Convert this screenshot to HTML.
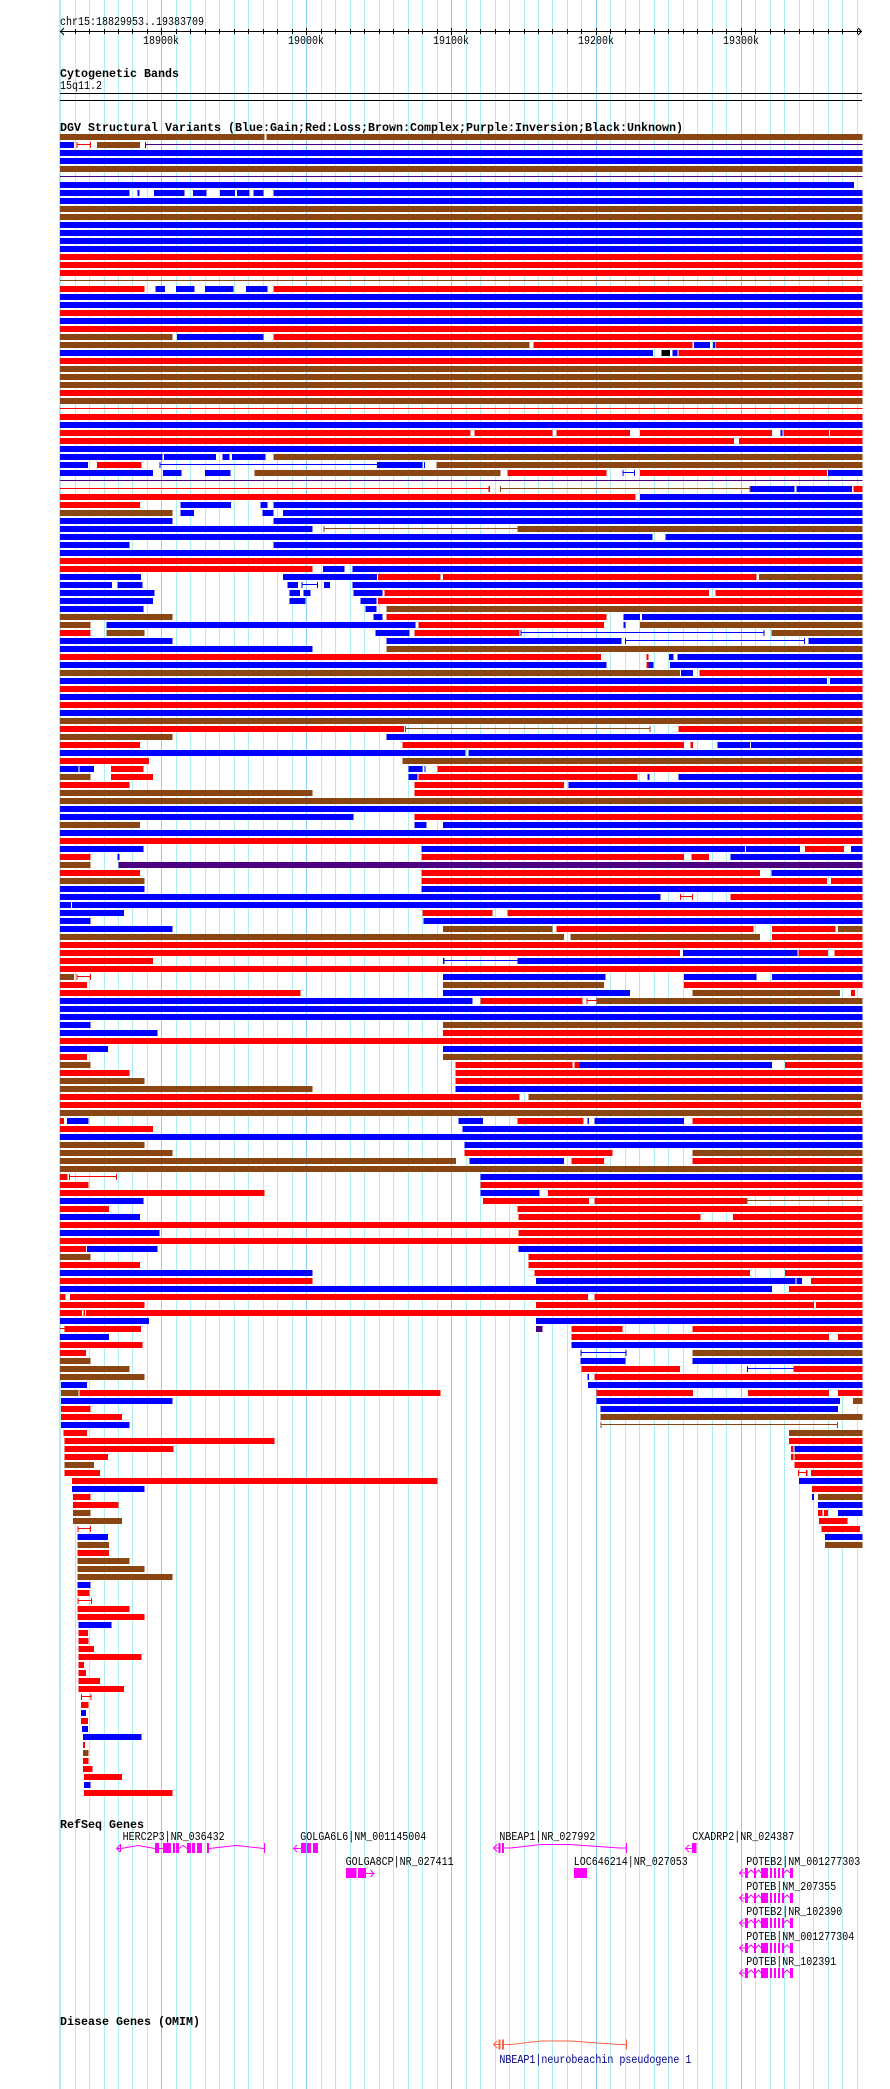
<!DOCTYPE html>
<html><head><meta charset="utf-8"><style>
html,body{margin:0;padding:0;background:#fff;}
svg{display:block;}
.s{font-family:"Liberation Mono",monospace;font-size:11.5px;fill:#000;}
.t{font-family:"Liberation Mono",monospace;font-size:11.5px;font-weight:bold;fill:#000;}
.b{fill:#0000ff}.r{fill:#ff0000}.n{fill:#8b4513}.p{fill:#4b0082}.k{fill:#000}
</style></head><body>
<svg width="890" height="2089" viewBox="0 0 890 2089" xmlns="http://www.w3.org/2000/svg">
<rect x="0" y="0" width="890" height="2089" fill="#fff"/>
<g shape-rendering="crispEdges" fill="#afeeee">
<rect x="59" y="0" width="2" height="2089"/><rect x="75" y="0" width="1" height="2089"/><rect x="89" y="0" width="1" height="2089"/><rect x="104" y="0" width="1" height="2089"/><rect x="118" y="0" width="1" height="2089"/><rect x="132" y="0" width="1" height="2089"/><rect x="147" y="0" width="1" height="2089"/><rect x="176" y="0" width="1" height="2089"/><rect x="190" y="0" width="1" height="2089"/><rect x="205" y="0" width="1" height="2089"/><rect x="219" y="0" width="1" height="2089"/><rect x="234" y="0" width="1" height="2089"/><rect x="248" y="0" width="1" height="2089"/><rect x="263" y="0" width="1" height="2089"/><rect x="277" y="0" width="1" height="2089"/><rect x="292" y="0" width="1" height="2089"/><rect x="321" y="0" width="1" height="2089"/><rect x="335" y="0" width="1" height="2089"/><rect x="350" y="0" width="1" height="2089"/><rect x="364" y="0" width="1" height="2089"/><rect x="379" y="0" width="1" height="2089"/><rect x="393" y="0" width="1" height="2089"/><rect x="408" y="0" width="1" height="2089"/><rect x="422" y="0" width="1" height="2089"/><rect x="437" y="0" width="1" height="2089"/><rect x="466" y="0" width="1" height="2089"/><rect x="480" y="0" width="1" height="2089"/><rect x="495" y="0" width="1" height="2089"/><rect x="509" y="0" width="1" height="2089"/><rect x="524" y="0" width="1" height="2089"/><rect x="538" y="0" width="1" height="2089"/><rect x="552" y="0" width="1" height="2089"/><rect x="567" y="0" width="1" height="2089"/><rect x="581" y="0" width="1" height="2089"/><rect x="610" y="0" width="1" height="2089"/><rect x="625" y="0" width="1" height="2089"/><rect x="639" y="0" width="1" height="2089"/><rect x="654" y="0" width="1" height="2089"/><rect x="668" y="0" width="1" height="2089"/><rect x="683" y="0" width="1" height="2089"/><rect x="697" y="0" width="1" height="2089"/><rect x="712" y="0" width="1" height="2089"/><rect x="726" y="0" width="1" height="2089"/><rect x="755" y="0" width="1" height="2089"/><rect x="770" y="0" width="1" height="2089"/><rect x="784" y="0" width="1" height="2089"/><rect x="799" y="0" width="1" height="2089"/><rect x="813" y="0" width="1" height="2089"/><rect x="828" y="0" width="1" height="2089"/><rect x="842" y="0" width="1" height="2089"/><rect x="857" y="0" width="1" height="2089"/>
</g>
<g shape-rendering="crispEdges" fill="#87cefa">
<rect x="161" y="0" width="1" height="2089"/><rect x="306" y="0" width="1" height="2089"/><rect x="451" y="0" width="1" height="2089"/><rect x="596" y="0" width="1" height="2089"/><rect x="741" y="0" width="1" height="2089"/>
</g>
<!-- header -->
<text class="s" x="60" y="25" textLength="144" lengthAdjust="spacingAndGlyphs">chr15:18829953..19383709</text>
<g shape-rendering="crispEdges" fill="#000">
<rect x="60" y="31" width="802" height="1"/>
<rect x="75" y="29" width="1" height="5"/><rect x="89" y="29" width="1" height="5"/><rect x="104" y="29" width="1" height="5"/><rect x="118" y="29" width="1" height="5"/><rect x="132" y="29" width="1" height="5"/><rect x="147" y="29" width="1" height="5"/><rect x="161" y="28" width="1" height="7"/><rect x="176" y="29" width="1" height="5"/><rect x="190" y="29" width="1" height="5"/><rect x="205" y="29" width="1" height="5"/><rect x="219" y="29" width="1" height="5"/><rect x="234" y="29" width="1" height="5"/><rect x="248" y="29" width="1" height="5"/><rect x="263" y="29" width="1" height="5"/><rect x="277" y="29" width="1" height="5"/><rect x="292" y="29" width="1" height="5"/><rect x="306" y="28" width="1" height="7"/><rect x="321" y="29" width="1" height="5"/><rect x="335" y="29" width="1" height="5"/><rect x="350" y="29" width="1" height="5"/><rect x="364" y="29" width="1" height="5"/><rect x="379" y="29" width="1" height="5"/><rect x="393" y="29" width="1" height="5"/><rect x="408" y="29" width="1" height="5"/><rect x="422" y="29" width="1" height="5"/><rect x="437" y="29" width="1" height="5"/><rect x="451" y="28" width="1" height="7"/><rect x="466" y="29" width="1" height="5"/><rect x="480" y="29" width="1" height="5"/><rect x="495" y="29" width="1" height="5"/><rect x="509" y="29" width="1" height="5"/><rect x="524" y="29" width="1" height="5"/><rect x="538" y="29" width="1" height="5"/><rect x="552" y="29" width="1" height="5"/><rect x="567" y="29" width="1" height="5"/><rect x="581" y="29" width="1" height="5"/><rect x="596" y="28" width="1" height="7"/><rect x="610" y="29" width="1" height="5"/><rect x="625" y="29" width="1" height="5"/><rect x="639" y="29" width="1" height="5"/><rect x="654" y="29" width="1" height="5"/><rect x="668" y="29" width="1" height="5"/><rect x="683" y="29" width="1" height="5"/><rect x="697" y="29" width="1" height="5"/><rect x="712" y="29" width="1" height="5"/><rect x="726" y="29" width="1" height="5"/><rect x="741" y="28" width="1" height="7"/><rect x="755" y="29" width="1" height="5"/><rect x="770" y="29" width="1" height="5"/><rect x="784" y="29" width="1" height="5"/><rect x="799" y="29" width="1" height="5"/><rect x="813" y="29" width="1" height="5"/><rect x="828" y="29" width="1" height="5"/><rect x="842" y="29" width="1" height="5"/><rect x="857" y="29" width="1" height="5"/>
<rect x="60" y="93" width="802" height="1"/>
<rect x="60" y="100" width="802" height="1"/>
</g>
<path d="M64 28 L60.5 31.5 L64 35 M858 28 L861.5 31.5 L858 35" stroke="#000" fill="none" stroke-width="1"/>
<text class="s" x="143" y="44" textLength="36" lengthAdjust="spacingAndGlyphs">18900k</text>
<text class="s" x="288" y="44" textLength="36" lengthAdjust="spacingAndGlyphs">19000k</text>
<text class="s" x="433" y="44" textLength="36" lengthAdjust="spacingAndGlyphs">19100k</text>
<text class="s" x="578" y="44" textLength="36" lengthAdjust="spacingAndGlyphs">19200k</text>
<text class="s" x="723" y="44" textLength="36" lengthAdjust="spacingAndGlyphs">19300k</text>
<text class="t" x="60" y="77" textLength="119" lengthAdjust="spacingAndGlyphs">Cytogenetic Bands</text>
<text class="s" x="60" y="89" textLength="42" lengthAdjust="spacingAndGlyphs">15q11.2</text>
<text class="t" x="60" y="131" textLength="623" lengthAdjust="spacingAndGlyphs">DGV Structural Variants (Blue:Gain;Red:Loss;Brown:Complex;Purple:Inversion;Black:Unknown)</text>
<!-- DGV rows -->
<g transform="translate(55.85 0) scale(0.5193 1)" shape-rendering="crispEdges">
<rect class="n" x="8" y="134" width="394" height="6"/><rect class="n" x="406" y="134" width="1147" height="6"/>
<rect class="b" x="8" y="142" width="27" height="6"/><rect class="r" x="40" y="144" width="28" height="1"/><rect class="r" x="40" y="142" width="2" height="6"/><rect class="r" x="66" y="142" width="2" height="6"/><rect class="n" x="79" y="142" width="83" height="6"/><rect class="p" x="172" y="142" width="2" height="6"/><rect class="p" x="172" y="144" width="1381" height="1"/>
<rect class="b" x="8" y="150" width="1545" height="6"/>
<rect class="b" x="8" y="158" width="1545" height="6"/>
<rect class="n" x="8" y="166" width="1545" height="6"/>
<rect class="p" x="8" y="176" width="1545" height="1"/>
<rect class="b" x="8" y="182" width="1529" height="6"/>
<rect class="b" x="8" y="190" width="134" height="6"/><rect class="b" x="157" y="190" width="4" height="6"/><rect class="b" x="189" y="190" width="59" height="6"/><rect class="b" x="264" y="190" width="26" height="6"/><rect class="b" x="316" y="190" width="29" height="6"/><rect class="b" x="349" y="190" width="24" height="6"/><rect class="b" x="381" y="190" width="19" height="6"/><rect class="b" x="419" y="190" width="1134" height="6"/>
<rect class="b" x="8" y="198" width="1545" height="6"/>
<rect class="n" x="8" y="206" width="1545" height="6"/>
<rect class="n" x="8" y="214" width="1545" height="6"/>
<rect class="b" x="8" y="222" width="1545" height="6"/>
<rect class="b" x="8" y="230" width="1545" height="6"/>
<rect class="b" x="8" y="238" width="1545" height="6"/>
<rect class="b" x="8" y="246" width="1545" height="6"/>
<rect class="r" x="8" y="254" width="1545" height="6"/>
<rect class="r" x="8" y="262" width="1545" height="6"/>
<rect class="r" x="8" y="270" width="1545" height="6"/>
<rect class="n" x="8" y="280" width="1545" height="1"/>
<rect class="r" x="8" y="286" width="163" height="6"/><rect class="b" x="192" y="286" width="18" height="6"/><rect class="b" x="231" y="286" width="36" height="6"/><rect class="b" x="287" y="286" width="55" height="6"/><rect class="b" x="366" y="286" width="42" height="6"/><rect class="r" x="419" y="286" width="1134" height="6"/>
<rect class="b" x="8" y="294" width="1545" height="6"/>
<rect class="b" x="8" y="302" width="1545" height="6"/>
<rect class="r" x="8" y="310" width="1545" height="6"/>
<rect class="b" x="8" y="318" width="1545" height="6"/>
<rect class="r" x="8" y="326" width="1545" height="6"/>
<rect class="n" x="8" y="334" width="217" height="6"/><rect class="b" x="233" y="334" width="167" height="6"/><rect class="r" x="419" y="334" width="1134" height="6"/>
<rect class="n" x="8" y="342" width="904" height="6"/><rect class="r" x="920" y="342" width="306" height="6"/><rect class="b" x="1229" y="342" width="31" height="6"/><rect class="b" x="1265" y="342" width="4" height="6"/><rect class="r" x="1270" y="342" width="283" height="6"/>
<rect class="b" x="8" y="350" width="1142" height="6"/><rect class="k" x="1166" y="350" width="17" height="6"/><rect class="b" x="1187" y="350" width="10" height="6"/><rect class="r" x="1199" y="350" width="354" height="6"/>
<rect class="r" x="8" y="358" width="1545" height="6"/>
<rect class="n" x="8" y="366" width="1545" height="6"/>
<rect class="n" x="8" y="374" width="1545" height="6"/>
<rect class="n" x="8" y="382" width="1545" height="6"/>
<rect class="r" x="8" y="390" width="1545" height="6"/>
<rect class="n" x="8" y="398" width="1545" height="6"/>
<rect class="r" x="8" y="408" width="1545" height="1"/>
<rect class="r" x="8" y="414" width="1545" height="6"/>
<rect class="b" x="8" y="422" width="1545" height="6"/>
<rect class="r" x="8" y="430" width="790" height="6"/><rect class="r" x="806" y="430" width="150" height="6"/><rect class="r" x="964" y="430" width="142" height="6"/><rect class="r" x="1125" y="430" width="254" height="6"/><rect class="b" x="1395" y="430" width="4" height="6"/><rect class="r" x="1401" y="430" width="88" height="6"/><rect class="r" x="1491" y="430" width="62" height="6"/>
<rect class="r" x="8" y="438" width="1298" height="6"/><rect class="r" x="1316" y="438" width="237" height="6"/>
<rect class="b" x="8" y="446" width="1545" height="6"/>
<rect class="b" x="8" y="454" width="197" height="6"/><rect class="b" x="208" y="454" width="100" height="6"/><rect class="b" x="321" y="454" width="13" height="6"/><rect class="b" x="339" y="454" width="65" height="6"/><rect class="n" x="419" y="454" width="1134" height="6"/>
<rect class="b" x="8" y="462" width="54" height="6"/><rect class="r" x="79" y="462" width="86" height="6"/><rect class="b" x="200" y="464" width="418" height="1"/><rect class="b" x="200" y="462" width="2" height="6"/><rect class="b" x="618" y="462" width="88" height="6"/><rect class="b" x="709" y="462" width="2" height="6"/><rect class="n" x="733" y="462" width="820" height="6"/>
<rect class="b" x="8" y="470" width="179" height="6"/><rect class="b" x="206" y="470" width="36" height="6"/><rect class="b" x="287" y="470" width="49" height="6"/><rect class="n" x="383" y="470" width="473" height="6"/><rect class="r" x="870" y="470" width="190" height="6"/><rect class="b" x="1091" y="472" width="24" height="1"/><rect class="b" x="1091" y="470" width="2" height="6"/><rect class="b" x="1113" y="470" width="2" height="6"/><rect class="r" x="1125" y="470" width="360" height="6"/><rect class="b" x="1487" y="470" width="66" height="6"/>
<rect class="p" x="8" y="480" width="1545" height="1"/>
<rect class="r" x="8" y="488" width="827" height="1"/><rect class="r" x="833" y="486" width="3" height="6"/><rect class="n" x="855" y="488" width="483" height="1"/><rect class="n" x="855" y="486" width="2" height="6"/><rect class="n" x="1336" y="486" width="2" height="6"/><rect class="b" x="1338" y="486" width="84" height="6"/><rect class="b" x="1426" y="486" width="107" height="6"/><rect class="r" x="1536" y="486" width="17" height="6"/>
<rect class="r" x="8" y="494" width="1108" height="6"/><rect class="b" x="1125" y="494" width="428" height="6"/>
<rect class="r" x="8" y="502" width="154" height="6"/><rect class="b" x="240" y="502" width="97" height="6"/><rect class="b" x="394" y="502" width="14" height="6"/><rect class="b" x="419" y="502" width="1134" height="6"/>
<rect class="n" x="8" y="510" width="217" height="6"/><rect class="b" x="240" y="510" width="26" height="6"/><rect class="b" x="398" y="510" width="21" height="6"/><rect class="b" x="437" y="510" width="1116" height="6"/>
<rect class="b" x="8" y="518" width="217" height="6"/><rect class="b" x="419" y="518" width="1134" height="6"/>
<rect class="b" x="8" y="526" width="486" height="6"/><rect class="n" x="515" y="528" width="374" height="1"/><rect class="n" x="515" y="526" width="2" height="6"/><rect class="n" x="889" y="526" width="664" height="6"/>
<rect class="b" x="8" y="534" width="1141" height="6"/><rect class="b" x="1174" y="534" width="379" height="6"/>
<rect class="b" x="8" y="542" width="134" height="6"/><rect class="b" x="419" y="542" width="1134" height="6"/>
<rect class="b" x="8" y="550" width="1545" height="6"/>
<rect class="r" x="8" y="558" width="1545" height="6"/>
<rect class="r" x="8" y="566" width="486" height="6"/><rect class="b" x="514" y="566" width="42" height="6"/><rect class="b" x="571" y="566" width="982" height="6"/>
<rect class="b" x="8" y="574" width="156" height="6"/><rect class="b" x="437" y="574" width="181" height="6"/><rect class="r" x="620" y="574" width="121" height="6"/><rect class="r" x="746" y="574" width="603" height="6"/><rect class="n" x="1354" y="574" width="199" height="6"/>
<rect class="b" x="8" y="582" width="100" height="6"/><rect class="b" x="119" y="582" width="48" height="6"/><rect class="b" x="446" y="582" width="20" height="6"/><rect class="b" x="473" y="584" width="32" height="1"/><rect class="b" x="473" y="582" width="2" height="6"/><rect class="b" x="503" y="582" width="2" height="6"/><rect class="b" x="516" y="582" width="12" height="6"/><rect class="b" x="571" y="582" width="982" height="6"/>
<rect class="b" x="8" y="590" width="182" height="6"/><rect class="b" x="450" y="590" width="20" height="6"/><rect class="b" x="477" y="590" width="13" height="6"/><rect class="b" x="573" y="590" width="56" height="6"/><rect class="r" x="633" y="590" width="625" height="6"/><rect class="r" x="1270" y="590" width="283" height="6"/>
<rect class="b" x="8" y="598" width="179" height="6"/><rect class="b" x="450" y="598" width="31" height="6"/><rect class="b" x="587" y="598" width="30" height="6"/><rect class="r" x="620" y="598" width="933" height="6"/>
<rect class="b" x="8" y="606" width="161" height="6"/><rect class="b" x="596" y="606" width="21" height="6"/><rect class="n" x="637" y="606" width="916" height="6"/>
<rect class="n" x="8" y="614" width="217" height="6"/><rect class="b" x="612" y="614" width="17" height="6"/><rect class="r" x="637" y="614" width="423" height="6"/><rect class="b" x="1093" y="614" width="32" height="6"/><rect class="b" x="1129" y="614" width="424" height="6"/>
<rect class="n" x="8" y="622" width="59" height="6"/><rect class="b" x="98" y="622" width="595" height="6"/><rect class="r" x="698" y="622" width="358" height="6"/><rect class="b" x="1093" y="622" width="4" height="6"/><rect class="n" x="1125" y="622" width="428" height="6"/>
<rect class="r" x="8" y="630" width="59" height="6"/><rect class="n" x="98" y="630" width="73" height="6"/><rect class="b" x="616" y="630" width="65" height="6"/><rect class="r" x="691" y="630" width="202" height="6"/><rect class="b" x="895" y="632" width="470" height="1"/><rect class="b" x="895" y="630" width="2" height="6"/><rect class="b" x="1363" y="630" width="2" height="6"/><rect class="n" x="1378" y="630" width="175" height="6"/>
<rect class="b" x="8" y="638" width="217" height="6"/><rect class="b" x="637" y="638" width="452" height="6"/><rect class="b" x="1096" y="640" width="347" height="1"/><rect class="b" x="1096" y="638" width="2" height="6"/><rect class="b" x="1441" y="638" width="2" height="6"/><rect class="b" x="1449" y="638" width="104" height="6"/>
<rect class="b" x="8" y="646" width="486" height="6"/><rect class="n" x="637" y="646" width="916" height="6"/>
<rect class="r" x="8" y="654" width="1042" height="6"/><rect class="r" x="1137" y="654" width="4" height="6"/><rect class="b" x="1181" y="654" width="8" height="6"/><rect class="b" x="1197" y="654" width="356" height="6"/>
<rect class="b" x="8" y="662" width="1052" height="6"/><rect class="r" x="1137" y="662" width="4" height="6"/><rect class="b" x="1141" y="662" width="10" height="6"/><rect class="b" x="1183" y="662" width="370" height="6"/>
<rect class="n" x="8" y="670" width="1194" height="6"/><rect class="b" x="1204" y="670" width="23" height="6"/><rect class="r" x="1239" y="670" width="314" height="6"/>
<rect class="b" x="8" y="678" width="1477" height="6"/><rect class="b" x="1491" y="678" width="62" height="6"/>
<rect class="r" x="8" y="686" width="1545" height="6"/>
<rect class="b" x="8" y="694" width="1545" height="6"/>
<rect class="r" x="8" y="702" width="1545" height="6"/>
<rect class="b" x="8" y="710" width="1545" height="6"/>
<rect class="n" x="8" y="718" width="1545" height="6"/>
<rect class="r" x="8" y="726" width="662" height="6"/><rect class="n" x="672" y="728" width="473" height="1"/><rect class="n" x="672" y="726" width="2" height="6"/><rect class="n" x="1143" y="726" width="2" height="6"/><rect class="r" x="1199" y="726" width="354" height="6"/>
<rect class="n" x="8" y="734" width="217" height="6"/><rect class="b" x="637" y="734" width="916" height="6"/>
<rect class="r" x="8" y="742" width="154" height="6"/><rect class="r" x="668" y="742" width="542" height="6"/><rect class="r" x="1222" y="742" width="5" height="6"/><rect class="b" x="1274" y="742" width="63" height="6"/><rect class="b" x="1339" y="742" width="214" height="6"/>
<rect class="b" x="8" y="750" width="781" height="6"/><rect class="b" x="795" y="750" width="758" height="6"/>
<rect class="r" x="8" y="758" width="171" height="6"/><rect class="n" x="668" y="758" width="885" height="6"/>
<rect class="b" x="8" y="766" width="36" height="6"/><rect class="b" x="46" y="766" width="27" height="6"/><rect class="r" x="106" y="766" width="63" height="6"/><rect class="b" x="679" y="766" width="27" height="6"/><rect class="b" x="710" y="766" width="2" height="6"/><rect class="r" x="735" y="766" width="818" height="6"/>
<rect class="n" x="8" y="774" width="59" height="6"/><rect class="r" x="106" y="774" width="81" height="6"/><rect class="b" x="679" y="774" width="17" height="6"/><rect class="r" x="698" y="774" width="422" height="6"/><rect class="b" x="1139" y="774" width="4" height="6"/><rect class="b" x="1199" y="774" width="354" height="6"/>
<rect class="r" x="8" y="782" width="134" height="6"/><rect class="r" x="691" y="782" width="288" height="6"/><rect class="b" x="987" y="782" width="566" height="6"/>
<rect class="n" x="8" y="790" width="486" height="6"/><rect class="r" x="691" y="790" width="862" height="6"/>
<rect class="n" x="8" y="798" width="1545" height="6"/>
<rect class="b" x="8" y="806" width="1545" height="6"/>
<rect class="b" x="8" y="814" width="565" height="6"/><rect class="r" x="691" y="814" width="862" height="6"/>
<rect class="n" x="8" y="822" width="154" height="6"/><rect class="b" x="691" y="822" width="23" height="6"/><rect class="b" x="746" y="822" width="807" height="6"/>
<rect class="b" x="8" y="830" width="1545" height="6"/>
<rect class="r" x="8" y="838" width="1545" height="6"/>
<rect class="b" x="8" y="846" width="161" height="6"/><rect class="b" x="704" y="846" width="623" height="6"/><rect class="b" x="1329" y="846" width="104" height="6"/><rect class="r" x="1443" y="846" width="75" height="6"/><rect class="b" x="1531" y="846" width="22" height="6"/>
<rect class="r" x="8" y="854" width="59" height="6"/><rect class="b" x="119" y="854" width="4" height="6"/><rect class="r" x="704" y="854" width="506" height="6"/><rect class="r" x="1224" y="854" width="34" height="6"/><rect class="b" x="1299" y="854" width="254" height="6"/>
<rect class="n" x="8" y="862" width="59" height="6"/><rect class="p" x="121" y="862" width="1432" height="6"/>
<rect class="r" x="8" y="870" width="154" height="6"/><rect class="r" x="704" y="870" width="652" height="6"/><rect class="b" x="1378" y="870" width="175" height="6"/>
<rect class="n" x="8" y="878" width="163" height="6"/><rect class="r" x="704" y="878" width="781" height="6"/><rect class="r" x="1493" y="878" width="60" height="6"/>
<rect class="b" x="8" y="886" width="163" height="6"/><rect class="b" x="704" y="886" width="849" height="6"/>
<rect class="b" x="8" y="894" width="1156" height="6"/><rect class="r" x="1202" y="896" width="25" height="1"/><rect class="r" x="1202" y="894" width="2" height="6"/><rect class="r" x="1225" y="894" width="2" height="6"/><rect class="r" x="1299" y="894" width="254" height="6"/>
<rect class="b" x="8" y="902" width="21" height="6"/><rect class="b" x="31" y="902" width="1522" height="6"/>
<rect class="b" x="8" y="910" width="123" height="6"/><rect class="r" x="706" y="910" width="135" height="6"/><rect class="r" x="870" y="910" width="683" height="6"/>
<rect class="b" x="8" y="918" width="59" height="6"/><rect class="b" x="708" y="918" width="845" height="6"/>
<rect class="b" x="8" y="926" width="217" height="6"/><rect class="n" x="746" y="926" width="210" height="6"/><rect class="r" x="964" y="926" width="379" height="6"/><rect class="r" x="1379" y="926" width="122" height="6"/><rect class="n" x="1506" y="926" width="47" height="6"/>
<rect class="n" x="8" y="934" width="971" height="6"/><rect class="n" x="991" y="934" width="365" height="6"/><rect class="r" x="1379" y="934" width="174" height="6"/>
<rect class="r" x="8" y="942" width="1545" height="6"/>
<rect class="r" x="8" y="950" width="1194" height="6"/><rect class="b" x="1208" y="950" width="220" height="6"/><rect class="r" x="1430" y="950" width="57" height="6"/><rect class="r" x="1499" y="950" width="54" height="6"/>
<rect class="r" x="8" y="958" width="179" height="6"/><rect class="b" x="746" y="960" width="143" height="1"/><rect class="b" x="746" y="958" width="2" height="6"/><rect class="b" x="889" y="958" width="664" height="6"/>
<rect class="r" x="8" y="966" width="1545" height="6"/>
<rect class="n" x="8" y="974" width="27" height="6"/><rect class="r" x="40" y="976" width="28" height="1"/><rect class="r" x="40" y="974" width="2" height="6"/><rect class="r" x="66" y="974" width="2" height="6"/><rect class="b" x="746" y="974" width="312" height="6"/><rect class="b" x="1210" y="974" width="139" height="6"/><rect class="b" x="1379" y="974" width="174" height="6"/>
<rect class="r" x="8" y="982" width="52" height="6"/><rect class="n" x="746" y="982" width="310" height="6"/><rect class="r" x="1210" y="982" width="343" height="6"/>
<rect class="r" x="8" y="990" width="463" height="6"/><rect class="b" x="746" y="990" width="360" height="6"/><rect class="n" x="1226" y="990" width="284" height="6"/><rect class="r" x="1531" y="990" width="8" height="6"/>
<rect class="b" x="8" y="998" width="794" height="6"/><rect class="r" x="818" y="998" width="196" height="6"/><rect class="r" x="1022" y="1000" width="21" height="1"/><rect class="r" x="1022" y="998" width="2" height="6"/><rect class="r" x="1041" y="998" width="2" height="6"/><rect class="n" x="1043" y="998" width="510" height="6"/>
<rect class="b" x="8" y="1006" width="1545" height="6"/>
<rect class="b" x="8" y="1014" width="1545" height="6"/>
<rect class="b" x="8" y="1022" width="59" height="6"/><rect class="n" x="746" y="1022" width="807" height="6"/>
<rect class="b" x="8" y="1030" width="188" height="6"/><rect class="r" x="746" y="1030" width="807" height="6"/>
<rect class="r" x="8" y="1038" width="1545" height="6"/>
<rect class="b" x="8" y="1046" width="92" height="6"/><rect class="b" x="746" y="1046" width="807" height="6"/>
<rect class="r" x="8" y="1054" width="52" height="6"/><rect class="n" x="746" y="1054" width="807" height="6"/>
<rect class="n" x="8" y="1062" width="59" height="6"/><rect class="r" x="770" y="1062" width="225" height="6"/><rect class="r" x="999" y="1062" width="9" height="6"/><rect class="b" x="1008" y="1062" width="371" height="6"/><rect class="r" x="1404" y="1062" width="149" height="6"/>
<rect class="r" x="8" y="1070" width="134" height="6"/><rect class="r" x="770" y="1070" width="783" height="6"/>
<rect class="n" x="8" y="1078" width="163" height="6"/><rect class="r" x="770" y="1078" width="783" height="6"/>
<rect class="n" x="8" y="1086" width="486" height="6"/><rect class="b" x="770" y="1086" width="783" height="6"/>
<rect class="r" x="8" y="1094" width="885" height="6"/><rect class="n" x="910" y="1094" width="643" height="6"/>
<rect class="r" x="8" y="1102" width="1542" height="6"/>
<rect class="n" x="8" y="1110" width="1545" height="6"/>
<rect class="r" x="8" y="1118" width="8" height="6"/><rect class="b" x="21" y="1118" width="42" height="6"/><rect class="b" x="775" y="1118" width="48" height="6"/><rect class="r" x="889" y="1118" width="127" height="6"/><rect class="b" x="1024" y="1118" width="3" height="6"/><rect class="b" x="1037" y="1118" width="173" height="6"/><rect class="r" x="1226" y="1118" width="327" height="6"/>
<rect class="r" x="8" y="1126" width="179" height="6"/><rect class="b" x="783" y="1126" width="770" height="6"/>
<rect class="b" x="8" y="1134" width="1545" height="6"/>
<rect class="n" x="8" y="1142" width="163" height="6"/><rect class="b" x="787" y="1142" width="766" height="6"/>
<rect class="n" x="8" y="1150" width="217" height="6"/><rect class="r" x="787" y="1150" width="285" height="6"/><rect class="n" x="1226" y="1150" width="327" height="6"/>
<rect class="n" x="8" y="1158" width="763" height="6"/><rect class="b" x="797" y="1158" width="182" height="6"/><rect class="r" x="993" y="1158" width="63" height="6"/><rect class="r" x="1226" y="1158" width="327" height="6"/>
<rect class="n" x="8" y="1166" width="1545" height="6"/>
<rect class="r" x="8" y="1174" width="14" height="6"/><rect class="r" x="25" y="1176" width="93" height="1"/><rect class="r" x="25" y="1174" width="2" height="6"/><rect class="r" x="116" y="1174" width="2" height="6"/><rect class="b" x="818" y="1174" width="735" height="6"/>
<rect class="r" x="8" y="1182" width="55" height="6"/><rect class="r" x="818" y="1182" width="735" height="6"/>
<rect class="r" x="8" y="1190" width="394" height="6"/><rect class="b" x="818" y="1190" width="113" height="6"/><rect class="r" x="948" y="1190" width="605" height="6"/>
<rect class="b" x="8" y="1198" width="161" height="6"/><rect class="r" x="823" y="1198" width="204" height="6"/><rect class="r" x="1037" y="1198" width="292" height="6"/><rect class="n" x="1329" y="1200" width="224" height="1"/><rect class="n" x="1329" y="1198" width="3" height="6"/>
<rect class="r" x="8" y="1206" width="94" height="6"/><rect class="r" x="889" y="1206" width="664" height="6"/>
<rect class="b" x="8" y="1214" width="154" height="6"/><rect class="r" x="891" y="1214" width="350" height="6"/><rect class="r" x="1304" y="1214" width="249" height="6"/>
<rect class="r" x="8" y="1222" width="1545" height="6"/>
<rect class="b" x="8" y="1230" width="192" height="6"/><rect class="r" x="891" y="1230" width="662" height="6"/>
<rect class="r" x="8" y="1238" width="1545" height="6"/>
<rect class="r" x="8" y="1246" width="50" height="6"/><rect class="b" x="60" y="1246" width="136" height="6"/><rect class="b" x="891" y="1246" width="662" height="6"/>
<rect class="n" x="8" y="1254" width="59" height="6"/><rect class="r" x="910" y="1254" width="643" height="6"/>
<rect class="r" x="8" y="1262" width="154" height="6"/><rect class="r" x="910" y="1262" width="643" height="6"/>
<rect class="b" x="8" y="1270" width="486" height="6"/><rect class="r" x="922" y="1270" width="415" height="6"/><rect class="r" x="1404" y="1270" width="149" height="6"/>
<rect class="r" x="8" y="1278" width="486" height="6"/><rect class="b" x="925" y="1278" width="499" height="6"/><rect class="b" x="1426" y="1278" width="11" height="6"/><rect class="r" x="1454" y="1278" width="99" height="6"/>
<rect class="b" x="8" y="1286" width="1371" height="6"/><rect class="r" x="1412" y="1286" width="141" height="6"/>
<rect class="r" x="8" y="1294" width="11" height="6"/><rect class="r" x="27" y="1294" width="998" height="6"/><rect class="r" x="1037" y="1294" width="516" height="6"/>
<rect class="r" x="8" y="1302" width="163" height="6"/><rect class="r" x="925" y="1302" width="535" height="6"/><rect class="r" x="1464" y="1302" width="89" height="6"/>
<rect class="r" x="8" y="1310" width="42" height="6"/><rect class="r" x="53" y="1310" width="3" height="6"/><rect class="r" x="58" y="1310" width="1495" height="6"/>
<rect class="b" x="8" y="1318" width="171" height="6"/><rect class="b" x="925" y="1318" width="628" height="6"/>
<rect class="r" x="8" y="1328" width="9" height="1"/><rect class="r" x="17" y="1326" width="147" height="6"/><rect class="p" x="925" y="1326" width="12" height="6"/><rect class="r" x="993" y="1326" width="98" height="6"/><rect class="r" x="1226" y="1326" width="327" height="6"/>
<rect class="b" x="8" y="1334" width="94" height="6"/><rect class="r" x="993" y="1334" width="496" height="6"/><rect class="r" x="1506" y="1334" width="47" height="6"/>
<rect class="r" x="8" y="1342" width="159" height="6"/><rect class="b" x="993" y="1342" width="560" height="6"/>
<rect class="r" x="8" y="1350" width="50" height="6"/><rect class="b" x="1010" y="1352" width="89" height="1"/><rect class="b" x="1010" y="1350" width="2" height="6"/><rect class="b" x="1097" y="1350" width="2" height="6"/><rect class="n" x="1226" y="1350" width="327" height="6"/>
<rect class="n" x="8" y="1358" width="59" height="6"/><rect class="b" x="1010" y="1358" width="87" height="6"/><rect class="b" x="1226" y="1358" width="327" height="6"/>
<rect class="n" x="8" y="1366" width="134" height="6"/><rect class="r" x="1012" y="1366" width="190" height="6"/><rect class="b" x="1331" y="1368" width="89" height="1"/><rect class="b" x="1331" y="1366" width="2" height="6"/><rect class="r" x="1420" y="1366" width="133" height="6"/>
<rect class="n" x="8" y="1374" width="163" height="6"/><rect class="b" x="1024" y="1374" width="3" height="6"/><rect class="r" x="1037" y="1374" width="516" height="6"/>
<rect class="b" x="10" y="1382" width="50" height="6"/><rect class="b" x="1025" y="1382" width="528" height="6"/>
<rect class="n" x="10" y="1390" width="34" height="6"/><rect class="r" x="46" y="1390" width="695" height="6"/><rect class="r" x="1041" y="1390" width="186" height="6"/><rect class="r" x="1333" y="1390" width="156" height="6"/><rect class="r" x="1506" y="1390" width="47" height="6"/>
<rect class="b" x="10" y="1398" width="215" height="6"/><rect class="b" x="1041" y="1398" width="469" height="6"/><rect class="n" x="1535" y="1398" width="18" height="6"/>
<rect class="r" x="10" y="1406" width="57" height="6"/><rect class="b" x="1049" y="1406" width="457" height="6"/>
<rect class="r" x="10" y="1414" width="117" height="6"/><rect class="n" x="1049" y="1414" width="504" height="6"/>
<rect class="b" x="10" y="1422" width="132" height="6"/><rect class="n" x="1049" y="1424" width="457" height="1"/><rect class="n" x="1049" y="1422" width="2" height="6"/><rect class="n" x="1504" y="1422" width="2" height="6"/>
<rect class="r" x="15" y="1430" width="45" height="6"/><rect class="n" x="1412" y="1430" width="141" height="6"/>
<rect class="r" x="17" y="1438" width="404" height="6"/><rect class="r" x="1412" y="1438" width="141" height="6"/>
<rect class="r" x="17" y="1446" width="210" height="6"/><rect class="r" x="1416" y="1446" width="4" height="6"/><rect class="b" x="1422" y="1446" width="131" height="6"/>
<rect class="r" x="17" y="1454" width="83" height="6"/><rect class="r" x="1416" y="1454" width="4" height="6"/><rect class="r" x="1422" y="1454" width="131" height="6"/>
<rect class="n" x="17" y="1462" width="56" height="6"/><rect class="r" x="1422" y="1462" width="131" height="6"/>
<rect class="r" x="17" y="1470" width="68" height="6"/><rect class="r" x="1429" y="1472" width="18" height="1"/><rect class="r" x="1429" y="1470" width="2" height="6"/><rect class="r" x="1445" y="1470" width="2" height="6"/><rect class="r" x="1454" y="1470" width="99" height="6"/>
<rect class="r" x="31" y="1478" width="704" height="6"/><rect class="b" x="1431" y="1478" width="122" height="6"/>
<rect class="b" x="31" y="1486" width="140" height="6"/><rect class="r" x="1456" y="1486" width="97" height="6"/>
<rect class="r" x="33" y="1494" width="34" height="6"/><rect class="b" x="1456" y="1494" width="4" height="6"/><rect class="n" x="1468" y="1494" width="85" height="6"/>
<rect class="r" x="33" y="1502" width="88" height="6"/><rect class="b" x="1468" y="1502" width="85" height="6"/>
<rect class="n" x="33" y="1510" width="34" height="6"/><rect class="r" x="1468" y="1510" width="8" height="6"/><rect class="r" x="1479" y="1510" width="8" height="6"/><rect class="b" x="1506" y="1510" width="47" height="6"/>
<rect class="n" x="33" y="1518" width="94" height="6"/><rect class="r" x="1470" y="1518" width="54" height="6"/>
<rect class="r" x="42" y="1528" width="26" height="1"/><rect class="r" x="42" y="1526" width="2" height="6"/><rect class="r" x="66" y="1526" width="2" height="6"/><rect class="r" x="1474" y="1526" width="75" height="6"/>
<rect class="b" x="42" y="1534" width="58" height="6"/><rect class="b" x="1481" y="1534" width="72" height="6"/>
<rect class="n" x="42" y="1542" width="60" height="6"/><rect class="n" x="1481" y="1542" width="72" height="6"/>
<rect class="r" x="42" y="1550" width="60" height="6"/>
<rect class="n" x="42" y="1558" width="100" height="6"/>
<rect class="n" x="42" y="1566" width="129" height="6"/>
<rect class="n" x="42" y="1574" width="183" height="6"/>
<rect class="b" x="42" y="1582" width="25" height="6"/>
<rect class="r" x="42" y="1590" width="23" height="6"/>
<rect class="r" x="42" y="1600" width="28" height="1"/><rect class="r" x="42" y="1598" width="2" height="6"/><rect class="r" x="68" y="1598" width="2" height="6"/>
<rect class="r" x="42" y="1606" width="100" height="6"/>
<rect class="r" x="42" y="1614" width="129" height="6"/>
<rect class="b" x="44" y="1622" width="63" height="6"/>
<rect class="r" x="44" y="1630" width="18" height="6"/>
<rect class="r" x="44" y="1638" width="19" height="6"/>
<rect class="r" x="44" y="1646" width="29" height="6"/>
<rect class="r" x="44" y="1654" width="121" height="6"/>
<rect class="r" x="44" y="1662" width="10" height="6"/>
<rect class="r" x="44" y="1670" width="14" height="6"/>
<rect class="r" x="44" y="1678" width="41" height="6"/>
<rect class="r" x="44" y="1686" width="87" height="6"/>
<rect class="r" x="48" y="1696" width="21" height="1"/><rect class="r" x="48" y="1694" width="2" height="6"/><rect class="r" x="67" y="1694" width="2" height="6"/>
<rect class="r" x="48" y="1702" width="15" height="6"/>
<rect class="b" x="48" y="1710" width="10" height="6"/>
<rect class="r" x="48" y="1718" width="14" height="6"/>
<rect class="b" x="50" y="1726" width="12" height="6"/>
<rect class="b" x="52" y="1734" width="113" height="6"/>
<rect class="r" x="52" y="1742" width="4" height="6"/>
<rect class="n" x="52" y="1750" width="11" height="6"/>
<rect class="r" x="52" y="1758" width="11" height="6"/>
<rect class="r" x="52" y="1766" width="19" height="6"/>
<rect class="r" x="54" y="1774" width="73" height="6"/>
<rect class="b" x="54" y="1782" width="13" height="6"/>
<rect class="r" x="54" y="1790" width="171" height="6"/>
</g>
<!-- RefSeq Genes -->
<text class="t" x="60" y="1828" textLength="84" lengthAdjust="spacingAndGlyphs">RefSeq Genes</text>
<defs>
<g id="nb">
<path d="M497 -3.5 L493.5 0 L497 3.5 M493.5 0 H499 M504 0 H511 L541 -3.5 H570 L619 0 H626" fill="none" stroke="currentColor" stroke-width="1"/>
<rect x="498.5" y="-5" width="2" height="10" fill="currentColor"/>
<rect x="502" y="-5" width="2" height="10" fill="currentColor"/>
<rect x="626" y="-5" width="1" height="10" fill="currentColor"/>
</g>
<g id="pt">
<path d="M743 -3.5 L739.5 0 L743 3.5 M739.5 0 H745 M748 0 L751 -3 L754 0 M756 0 L758.5 -3 L761 0 M784 0 L787 -3 L790 0" fill="none" stroke="currentColor" stroke-width="1"/>
<g fill="currentColor">
<rect x="745" y="-5" width="3" height="10"/><rect x="754" y="-5" width="2" height="10"/><rect x="761" y="-5" width="7" height="10"/><rect x="770" y="-5" width="2" height="10"/><rect x="774" y="-5" width="2" height="10"/><rect x="778" y="-5" width="2" height="10"/><rect x="782" y="-5" width="2" height="10"/><rect x="790" y="-5" width="3" height="10"/>
</g>
</g>
</defs>
<g fill="#ff00ff">
<rect x="120" y="1844" width="1" height="8"/>
<rect x="155" y="1843" width="4" height="10"/><rect x="163" y="1843" width="8" height="10"/><rect x="173" y="1843" width="2" height="10"/><rect x="176" y="1843" width="3" height="10"/>
<rect x="187" y="1843" width="4" height="10"/><rect x="192" y="1843" width="3" height="10"/><rect x="197" y="1843" width="5" height="10"/><rect x="207" y="1843" width="2" height="10"/>
<rect x="264" y="1843" width="1" height="10"/>
<rect x="301" y="1843" width="5" height="10"/><rect x="307" y="1843" width="4" height="10"/><rect x="313" y="1843" width="5" height="10"/>
<rect x="346" y="1868" width="10.5" height="10"/><rect x="358" y="1868" width="8" height="10"/>
<rect x="574" y="1868" width="13" height="10"/>
<rect x="692" y="1843" width="4.5" height="10"/>
</g>
<path d="M120 1845 L116.5 1848.5 L120 1852 M116.5 1848.5 H121 M121 1848.5 L138 1845.5 L155 1848.5 M159 1848.5 H163 M179 1848.5 L183 1845.5 L187 1848.5 M209 1848.5 L236 1845.5 L264 1848.5 M297 1845 L293.5 1848.5 L297 1852 M293.5 1848.5 H301 M366 1873.5 H374 M370.5 1870 L374 1873.5 L370.5 1877 M689 1845 L685.5 1848.5 L689 1852 M685.5 1848.5 H692" fill="none" stroke="#ff00ff" stroke-width="1"/>
<use href="#nb" transform="translate(0 1848)" style="color:#ff00ff"/>
<use href="#pt" transform="translate(0 1873)" style="color:#ff00ff"/>
<use href="#pt" transform="translate(0 1898)" style="color:#ff00ff"/>
<use href="#pt" transform="translate(0 1923)" style="color:#ff00ff"/>
<use href="#pt" transform="translate(0 1948)" style="color:#ff00ff"/>
<use href="#pt" transform="translate(0 1973)" style="color:#ff00ff"/>
<text class="s" x="122.6" y="1840" textLength="102" lengthAdjust="spacingAndGlyphs">HERC2P3|NR_036432</text>
<text class="s" x="300.3" y="1840" textLength="126" lengthAdjust="spacingAndGlyphs">GOLGA6L6|NM_001145004</text>
<text class="s" x="499.4" y="1840" textLength="96" lengthAdjust="spacingAndGlyphs">NBEAP1|NR_027992</text>
<text class="s" x="692.3" y="1840" textLength="102" lengthAdjust="spacingAndGlyphs">CXADRP2|NR_024387</text>
<text class="s" x="345.6" y="1865" textLength="108" lengthAdjust="spacingAndGlyphs">GOLGA8CP|NR_027411</text>
<text class="s" x="573.8" y="1865" textLength="114" lengthAdjust="spacingAndGlyphs">LOC646214|NR_027053</text>
<text class="s" x="746.3" y="1865" textLength="114" lengthAdjust="spacingAndGlyphs">POTEB2|NM_001277303</text>
<text class="s" x="746.3" y="1890" textLength="90" lengthAdjust="spacingAndGlyphs">POTEB|NM_207355</text>
<text class="s" x="746.3" y="1915" textLength="96" lengthAdjust="spacingAndGlyphs">POTEB2|NR_102390</text>
<text class="s" x="746.3" y="1940" textLength="108" lengthAdjust="spacingAndGlyphs">POTEB|NM_001277304</text>
<text class="s" x="746.3" y="1965" textLength="90" lengthAdjust="spacingAndGlyphs">POTEB|NR_102391</text>
<!-- Disease Genes -->
<text class="t" x="60" y="2025" textLength="140" lengthAdjust="spacingAndGlyphs">Disease Genes (OMIM)</text>
<use href="#nb" transform="translate(0 2044.5)" style="color:#ff6347"/>
<text class="s" x="499.4" y="2063" textLength="192" lengthAdjust="spacingAndGlyphs" style="fill:#00008b">NBEAP1|neurobeachin pseudogene 1</text>
</svg>
</body></html>
